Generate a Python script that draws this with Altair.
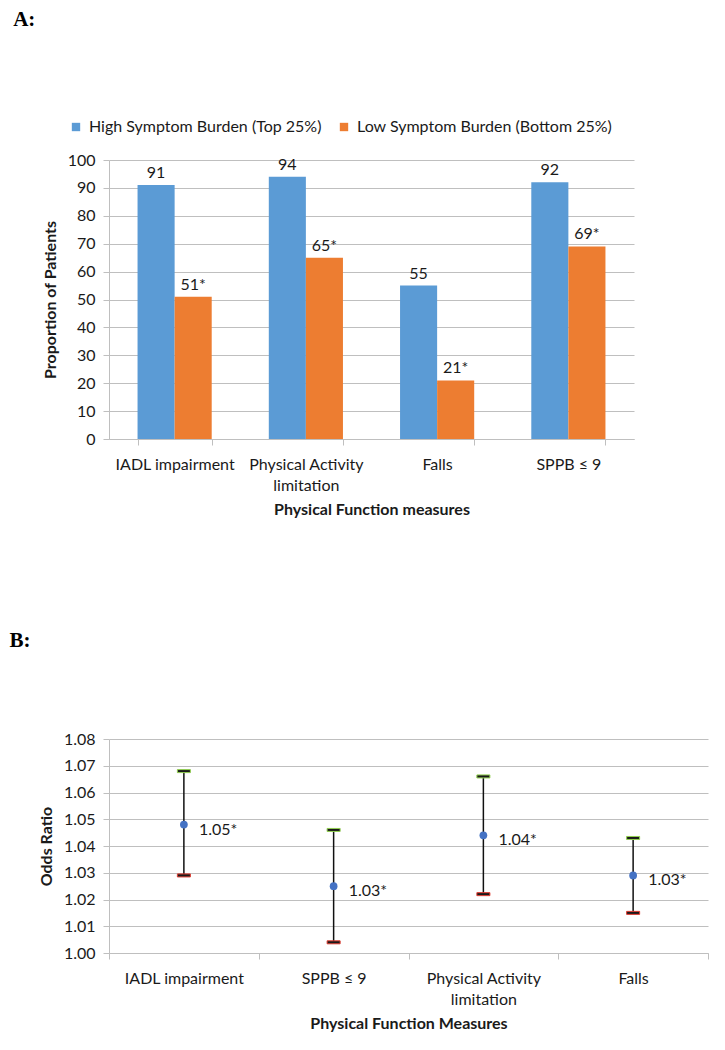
import altair as alt
import pandas as pd

# ---------------- Panel A data ----------------
measures_a = ["IADL impairment", "Physical Activity limitation", "Falls", "SPPB ≤ 9"]
series = ["High Symptom Burden (Top 25%)", "Low Symptom Burden (Bottom 25%)"]
high_burden = [91, 94, 55, 92]
low_burden = [51, 65, 21, 69]
high_marks = ["", "", "", ""]
low_marks = ["*", "*", "*", "*"]
y_ticks_a = [0, 10, 20, 30, 40, 50, 60, 70, 80, 90, 100]

# ---------------- Panel B data ----------------
measures_b = ["IADL impairment", "SPPB ≤ 9", "Physical Activity limitation", "Falls"]
odds_ratio = [1.048, 1.025, 1.044, 1.029]
ci_lower = [1.029, 1.004, 1.022, 1.015]
ci_upper = [1.068, 1.046, 1.066, 1.043]
or_labels = ["1.05*", "1.03*", "1.04*", "1.03*"]
y_ticks_b = [1.00, 1.01, 1.02, 1.03, 1.04, 1.05, 1.06, 1.07, 1.08]

BLUE = "#5B9BD5"
ORANGE = "#ED7D31"
GRID = "#BFBFBF"
FONT = "Lato"
TXT = "#1a1a1a"

rows = []
for m, h, l, hm, lm in zip(measures_a, high_burden, low_burden, high_marks, low_marks):
    rows.append({"measure": m, "series": series[0], "value": h, "label": f"{h}{hm}"})
    rows.append({"measure": m, "series": series[1], "value": l, "label": f"{l}{lm}"})
df_a = pd.DataFrame(rows)

df_b = pd.DataFrame({
    "measure": measures_b,
    "or": odds_ratio,
    "lower": ci_lower,
    "upper": ci_upper,
    "label": or_labels,
})

label_expr = ("datum.label == 'Physical Activity limitation' ? "
              "['Physical Activity', 'limitation'] : datum.label")


def x_axis():
    return alt.Axis(
        labelAngle=0, labelExpr=label_expr, tickBand="extent", grid=False,
        labelFontSize=16, labelPadding=11, labelLineHeight=21, labelColor=TXT,
        titleFontSize=16, titleFontWeight="bold", titleColor=TXT, titlePadding=8,
        domainColor=GRID, tickColor=GRID, tickSize=6, labelLimit=0,
    )


def y_axis(values, title, fmt=None):
    kw = dict(values=values, title=title, labelFontSize=16, labelColor=TXT,
              titleFontSize=16, titleFontWeight="bold", titleColor=TXT,
              titlePadding=9, labelPadding=8, tickSize=6, grid=True,
              domainColor=GRID, tickColor=GRID, gridColor=GRID, labelOverlap=False)
    if fmt:
        kw["format"] = fmt
    return alt.Axis(**kw)


# ---------------- Panel A ----------------
xa = alt.X("measure:N", sort=measures_a, title="Physical Function measures",
           scale=alt.Scale(paddingInner=0.435, paddingOuter=0.2175), axis=x_axis())
ya = alt.Y("value:Q", scale=alt.Scale(domain=[0, 100], nice=False),
           axis=y_axis(y_ticks_a, "Proportion of Patients"))
xoff = alt.XOffset("series:N", sort=series)

base_a = alt.Chart(df_a).encode(x=xa, xOffset=xoff, y=ya)
bars = base_a.mark_bar().encode(
    color=alt.Color("series:N", sort=series,
                    scale=alt.Scale(domain=series, range=[BLUE, ORANGE]),
                    legend=alt.Legend(title=None, orient="none", legendX=-41, legendY=-41,
                                      direction="horizontal", labelFontSize=16,
                                      labelColor=TXT, symbolType="square",
                                      symbolSize=70, symbolStrokeWidth=0, padding=0,
                                      columnPadding=14, labelLimit=0, labelOffset=5)),
)
bar_labels = base_a.mark_text(dy=-12, fontSize=16, font=FONT, color=TXT).encode(
    text="label:N")
chart_a = alt.layer(bars, bar_labels).properties(
    width=525, height=279,
    title=alt.TitleParams("A:", anchor="start", frame="bounds", font="Liberation Serif",
                          fontSize=21, fontWeight="bold", color="#000", offset=122, dx=-29),
)

# ---------------- Panel B ----------------
xb = alt.X("measure:N", sort=measures_b, title="Physical Function Measures",
           scale=alt.Scale(paddingInner=0, paddingOuter=0), axis=x_axis())
yb_scale = alt.Scale(domain=[1.0, 1.08], nice=False)


def yb(field):
    return alt.Y(field, scale=yb_scale, axis=y_axis(y_ticks_b, "Odds Ratio", ".2f"))


base_b = alt.Chart(df_b).encode(x=xb)
whisk = base_b.mark_rule(color="#111", strokeWidth=1.5).encode(y=yb("lower:Q"), y2="upper:Q")
cap_hi = base_b.mark_tick(fill="#1a1a1a", stroke="#92D050", strokeWidth=1,
                          thickness=3, size=13, opacity=1).encode(y=yb("upper:Q"))
cap_lo = base_b.mark_tick(fill="#1a1a1a", stroke="#E03C31", strokeWidth=1,
                          thickness=3, size=13, opacity=1).encode(y=yb("lower:Q"))
pts = base_b.mark_circle(size=60, color="#4472C4", opacity=1).encode(y=yb("or:Q"))
or_text = base_b.mark_text(align="left", dx=15, dy=5, fontSize=16, font=FONT,
                           color=TXT).encode(y=yb("or:Q"), text="label:N")

chart_b = alt.layer(whisk, cap_hi, cap_lo, pts, or_text).properties(
    width=599, height=214,
    title=alt.TitleParams("B:", anchor="start", frame="bounds", font="Liberation Serif",
                          fontSize=21, fontWeight="bold", color="#000", offset=80, dx=-29),
)

chart = alt.vconcat(chart_a, chart_b, spacing=113,
                    padding={"left": 1, "top": 1, "right": 5, "bottom": 5}).configure_view(
    stroke=None
).configure_axis(
    labelFont=FONT, titleFont=FONT
).configure_legend(
    labelFont=FONT
)

chart.save("out.html", embed_options={"renderer": "svg", "actions": False})
